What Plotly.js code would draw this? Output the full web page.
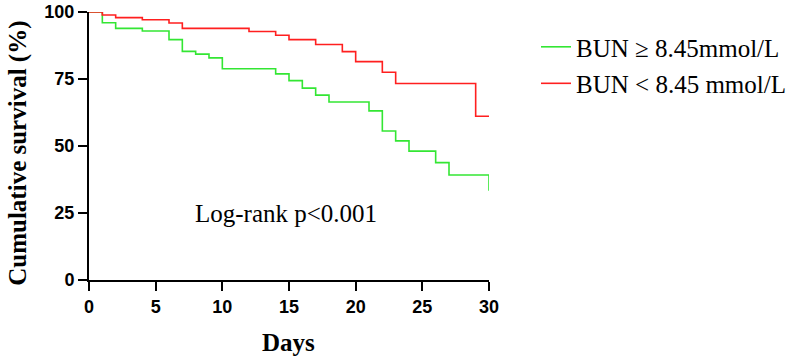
<!DOCTYPE html>
<html>
<head>
<meta charset="utf-8">
<script src="https://cdn.plot.ly/plotly-3.0.1.min.js"></script>
<style>html,body{margin:0;padding:0;background:#fff;}#chart{width:798px;height:359px;}</style>
</head>
<body>
<div id="chart"></div>
<script>
// Kaplan-Meier step data (days, cumulative survival %)
const highDays = [0, 1, 2, 4, 6, 7, 8, 9, 10, 14, 15, 16, 17, 18, 21, 22, 23, 24, 26, 27, 30];
const highSurv = [100, 96.0, 93.9, 92.9, 89.7, 85.3, 84.3, 82.9, 78.8, 76.9, 74.4, 71.6, 69.0, 66.4, 63.1, 55.6, 51.9, 48.1, 43.8, 39.2, 33.3];
const lowDays = [0, 1, 2, 4, 6, 7, 12, 14, 15, 17, 19, 20, 22, 23, 29, 30];
const lowSurv = [100, 98.9, 97.9, 97.1, 95.9, 93.9, 92.7, 91.3, 89.7, 87.9, 85.2, 81.5, 77.5, 73.3, 61.1, 61.1];
const seriesNames = ["BUN \u2265 8.45mmol/L", "BUN < 8.45 mmol/L"];
const xTicks = [0, 5, 10, 15, 20, 25, 30];
const yTicks = [0, 25, 50, 75, 100];

const serif = "Liberation Serif, Times New Roman, serif";
const sans = "Liberation Sans, Arial, sans-serif";

const traces = [
  {x: highDays, y: highSurv, name: seriesNames[0], legendgroup: "a", mode: "lines", line: {shape: "hv", color: "#33E633", width: 1.6}, cliponaxis: false},
  {x: lowDays, y: lowSurv, name: seriesNames[1], legendgroup: "b", mode: "lines", line: {shape: "hv", color: "#FF1F1F", width: 1.6}, cliponaxis: false}
];

const axisCommon = {
  showline: true, linecolor: "#000", linewidth: 2, mirror: false,
  ticks: "outside", ticklen: 9, tickwidth: 2, tickcolor: "#000",
  showgrid: false, zeroline: false, fixedrange: true,
  tickfont: {family: sans, size: 18, color: "#000", weight: "bold"}
};

const layout = {
  width: 798, height: 359,
  margin: {l: 89, r: 309, t: 12, b: 79, autoexpand: false},
  paper_bgcolor: "#fff", plot_bgcolor: "#fff",
  xaxis: Object.assign({}, axisCommon, {range: [0, 30], tickvals: xTicks, ticktext: xTicks.map(String)}),
  yaxis: Object.assign({}, axisCommon, {range: [0, 100], tickvals: yTicks, ticktext: yTicks.map(String)}),
  showlegend: true,
  legend: {
    x: 1.1175, y: 0.955, xanchor: "left", yanchor: "top",
    font: {family: serif, size: 25, color: "#000"},
    bgcolor: "rgba(0,0,0,0)", borderwidth: 0, tracegroupgap: 1
  },
  annotations: [
    {text: "Log-rank p<0.001", xref: "x", yref: "y", x: 14.8, y: 25, showarrow: false,
     font: {family: serif, size: 25, color: "#000"}, xanchor: "center", yanchor: "middle"},
    {text: "Cumulative survival (%)", xref: "paper", yref: "paper", x: -0.178, y: 0.474, textangle: -90,
     showarrow: false, font: {family: serif, size: 25, color: "#000", weight: "bold"}, xanchor: "center", yanchor: "middle"},
    {text: "Days", xref: "paper", yref: "paper", x: 0.4975, y: -0.235, showarrow: false,
     font: {family: serif, size: 25, color: "#000", weight: "bold"}, xanchor: "center", yanchor: "middle"}
  ]
};

Plotly.newPlot("chart", traces, layout, {staticPlot: true, displayModeBar: false});
</script>
</body>
</html>
